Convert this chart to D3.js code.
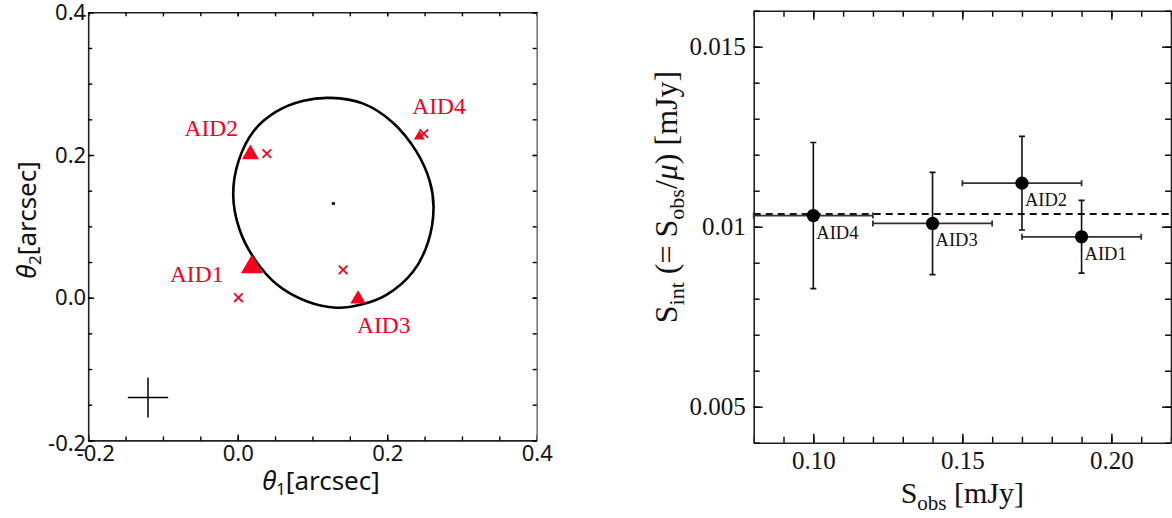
<!DOCTYPE html>
<html lang="en">

<head>
  <meta charset="UTF-8" />
  <title>Lens images and intrinsic flux</title>
  <style>
    body { margin: 0; background: #fff; }
    svg { display: block; }
    .sans text { font-family: "Noto Sans", sans-serif; }
    .serif text { font-family: "Liberation Serif", "Times New Roman", serif; }
  </style>
</head>

<body>

  <div id="chart"></div>

  <script src="https://d3js.org/d3.v7.min.js"></script>
  <script>
    // ---- left panel data (arcsec) ----
    var ids = ["AID1", "AID2", "AID3", "AID4"];
    var imageTheta1 = [0.019, 0.017, 0.161, 0.243];
    var imageTheta2 = [0.043, 0.201, -0.002, 0.226];
    var sourceTheta1 = [0.001, 0.039, 0.141, 0.249];
    var sourceTheta2 = [0.000, 0.202, 0.039, 0.230];
    var curveTheta1 = [0.124, 0.168, 0.207, 0.239, 0.257, 0.262, 0.255, 0.235, 0.199, 0.164,
      0.132, 0.092, 0.053, 0.022, 0.002, -0.006, 0.001, 0.021, 0.052, 0.088];
    var curveTheta2 = [0.280, 0.272, 0.246, 0.205, 0.163, 0.126, 0.079, 0.037, 0.004, -0.010,
      -0.014, -0.005, 0.018, 0.055, 0.097, 0.144, 0.191, 0.233, 0.261, 0.276];
    var lensCenter = [0.128, 0.132];
    var beamCenter = [-0.120, -0.140];
    var beamHalf = [0.027, 0.028];
    var thetaTicks = [-0.2, 0.0, 0.2, 0.4];

    // ---- right panel data (mJy) ----
    var sObs = [0.19, 0.17, 0.14, 0.10];
    var sObsErr = [0.02, 0.02, 0.02, 0.02];
    var sInt = [0.00972, 0.01121, 0.01009, 0.01031];
    var sIntErr = [0.00101, 0.00130, 0.00142, 0.00203];
    var sIntMean = 0.01035;
    var sObsTicks = [0.10, 0.15, 0.20];
    var sIntTicks = [0.005, 0.01, 0.015];

    var w = 1172;
    var h = 518;
    var red = "#f5001f";

    var svg = d3.select("#chart").append("svg")
      .attr("width", w)
      .attr("height", h);

    // inward ticks on one side of a frame; makeAxis returns a fresh d3 axis
    function frameAxis(g, makeAxis, major, minor, fmt, bigTick, smallTick) {
      g.call(makeAxis().tickValues(minor).tickSize(-smallTick).tickSizeOuter(0).tickFormat(""));
      var m = g.append("g").call(makeAxis().tickValues(major).tickSize(-bigTick).tickSizeOuter(0)
        .tickFormat(fmt || function() { return ""; }));
      m.select(".domain").remove();
      g.selectAll("text").attr("fill", "#111");
      g.selectAll("line").attr("stroke-width", 1.4);
      return m;
    }

    /* ===================== left panel ===================== */
    var x1 = d3.scaleLinear().domain([-0.2, 0.4]).range([88.2, 536.7]);
    var y1 = d3.scaleLinear().domain([-0.2, 0.4]).range([440.4, 12.3]);
    var minor1 = d3.range(-0.2, 0.4001, 0.05);
    var fmt1 = function(d) { return d.toFixed(1); };

    var left = svg.append("g").attr("class", "sans");

    var bx1 = left.append("g").attr("transform", "translate(0," + y1(-0.2) + ")");
    frameAxis(bx1, function() { return d3.axisBottom(x1).tickPadding(5); }, thetaTicks, minor1, fmt1, 6, 4)
      .selectAll("text")
      .style("font-size", "22px")
      .attr("dx", function(d) { return d < 0 ? 7 : 0; });

    var tx1 = left.append("g").attr("transform", "translate(0," + y1(0.4) + ")");
    frameAxis(tx1, function() { return d3.axisTop(x1); }, thetaTicks, minor1, null, 4, 4);

    var ly1 = left.append("g").attr("transform", "translate(" + x1(-0.2) + ",0)");
    frameAxis(ly1, function() { return d3.axisLeft(y1).tickPadding(2); }, thetaTicks, minor1, fmt1, 6, 4)
      .selectAll("text")
      .style("font-size", "22px")
      .attr("dy", function(d) { return d < 0 ? "0.45em" : "0.32em"; });

    var ry1 = left.append("g").attr("transform", "translate(" + x1(0.4) + ",0)");
    frameAxis(ry1, function() { return d3.axisRight(y1); }, thetaTicks, minor1, null, 4, 4);

    left.selectAll(".domain").attr("stroke", "#222").attr("stroke-width", 1.6);
    ry1.select(".domain").attr("stroke", "#777");

    // critical curve
    var curvePts = curveTheta1.map(function(d, i) { return [d, curveTheta2[i]]; });
    left.append("path")
      .datum(curvePts)
      .attr("d", d3.line()
        .x(function(d) { return x1(d[0]); })
        .y(function(d) { return y1(d[1]); })
        .curve(d3.curveCatmullRomClosed))
      .attr("fill", "none")
      .attr("stroke", "#000")
      .attr("stroke-width", 2.6);

    // lens centre
    left.append("rect")
      .attr("x", x1(lensCenter[0]) - 1.6)
      .attr("y", y1(lensCenter[1]) - 1.3)
      .attr("width", 3.2)
      .attr("height", 2.6)
      .attr("fill", "#000");

    // beam cross
    left.append("line")
      .attr("x1", x1(beamCenter[0] - beamHalf[0]))
      .attr("x2", x1(beamCenter[0] + beamHalf[0]))
      .attr("y1", y1(beamCenter[1]))
      .attr("y2", y1(beamCenter[1]))
      .attr("stroke", "#000").attr("stroke-width", 1.5);
    left.append("line")
      .attr("x1", x1(beamCenter[0]))
      .attr("x2", x1(beamCenter[0]))
      .attr("y1", y1(beamCenter[1] - beamHalf[1]))
      .attr("y2", y1(beamCenter[1] + beamHalf[1]))
      .attr("stroke", "#000").attr("stroke-width", 1.5);

    // magnification from the right panel sets the triangle width
    var mu = sObs.map(function(d, i) { return d / sInt[i]; });
    var triWidth = d3.scaleLinear().domain([0, 20]).range([0, 22.4]);

    var pts = ids.map(function(d, i) {
      return { id: d, ix: imageTheta1[i], iy: imageTheta2[i],
        sx: sourceTheta1[i], sy: sourceTheta2[i], mu: mu[i] };
    });

    left.selectAll("path.src")
      .data(pts)
      .enter()
      .append("path")
      .attr("class", "src")
      .attr("transform", function(d) { return "translate(" + x1(d.sx) + "," + y1(d.sy) + ")"; })
      .attr("d", "M-4.3,-4.3L4.3,4.3M-4.3,4.3L4.3,-4.3")
      .attr("stroke", red)
      .attr("stroke-width", 1.8)
      .attr("fill", "none");

    left.selectAll("path.img")
      .data(pts)
      .enter()
      .append("path")
      .attr("class", "img")
      .attr("transform", function(d) { return "translate(" + x1(d.ix) + "," + y1(d.iy) + ")"; })
      .attr("d", function(d) {
        var tw = triWidth(d.mu);
        return d3.symbol().type(d3.symbolTriangle).size(tw * tw * Math.sqrt(3) / 4)();
      })
      .attr("fill", red);

    var leftLabelOffset = { AID1: [-82, 15], AID2: [-66, -18], AID3: [-1, 34], AID4: [-7, -22] };
    left.selectAll("text.aid")
      .data(pts)
      .enter()
      .append("text")
      .attr("class", "aid")
      .attr("x", function(d) { return x1(d.ix) + leftLabelOffset[d.id][0]; })
      .attr("y", function(d) { return y1(d.iy) + leftLabelOffset[d.id][1]; })
      .text(function(d) { return d.id; })
      .style("font-family", "'Liberation Serif', serif")
      .style("font-size", "23.5px")
      .attr("fill", red);

    // titles
    var xt1 = left.append("text")
      .attr("x", 321)
      .attr("y", 490)
      .attr("text-anchor", "middle")
      .style("font-size", "26px")
      .attr("fill", "#111");
    xt1.append("tspan").style("font-style", "italic").text("θ");
    xt1.append("tspan").attr("dy", 5).style("font-size", "17px").text("1");
    xt1.append("tspan").attr("dy", -5).text("[arcsec]");

    var yt1 = left.append("text")
      .attr("transform", "translate(36,220) rotate(-90)")
      .attr("text-anchor", "middle")
      .style("font-size", "26px")
      .attr("fill", "#111");
    yt1.append("tspan").style("font-style", "italic").text("θ");
    yt1.append("tspan").attr("dy", 5).style("font-size", "17px").text("2");
    yt1.append("tspan").attr("dy", -5).text("[arcsec]");

    /* ===================== right panel ===================== */
    var x2 = d3.scaleLinear().domain([0.08, 0.22]).range([753.7, 1171]);
    var y2 = d3.scaleLinear().domain([0.004, 0.016]).range([442.7, 10.7]);
    var minorX2 = d3.range(0.08, 0.2201, 0.01);
    var minorY2 = d3.range(0.004, 0.01601, 0.001);

    var right = svg.append("g").attr("class", "serif");

    var bx2 = right.append("g").attr("transform", "translate(0," + y2(0.004) + ")");
    frameAxis(bx2, function() { return d3.axisBottom(x2).tickPadding(9); }, sObsTicks, minorX2,
      function(d) { return d.toFixed(2); }, 9, 6)
      .selectAll("text").style("font-size", "25px");

    var tx2 = right.append("g").attr("transform", "translate(0," + y2(0.016) + ")");
    frameAxis(tx2, function() { return d3.axisTop(x2); }, sObsTicks, minorX2, null, 9, 6);

    var ly2 = right.append("g").attr("transform", "translate(" + x2(0.08) + ",0)");
    frameAxis(ly2, function() { return d3.axisLeft(y2).tickPadding(8); }, sIntTicks, minorY2,
      function(d) { return String(d); }, 9, 6)
      .selectAll("text").style("font-size", "25px");

    var ry2 = right.append("g").attr("transform", "translate(" + x2(0.22) + ",0)");
    frameAxis(ry2, function() { return d3.axisRight(y2); }, sIntTicks, minorY2, null, 9, 6);

    right.selectAll(".domain").attr("stroke", "#222").attr("stroke-width", 1.6);

    // mean line
    right.append("line")
      .attr("x1", x2(0.08))
      .attr("x2", x2(0.22))
      .attr("y1", y2(sIntMean))
      .attr("y2", y2(sIntMean))
      .attr("stroke", "#111")
      .attr("stroke-width", 2)
      .attr("stroke-dasharray", "7,5");

    var flux = ids.map(function(d, i) {
      return { id: d, x: sObs[i], xe: sObsErr[i], y: sInt[i], ye: sIntErr[i] };
    });

    var eb = right.selectAll("g.eb")
      .data(flux)
      .enter()
      .append("g")
      .attr("class", "eb");

    // horizontal bars
    eb.append("path")
      .attr("d", function(d) {
        var a = x2(d.x - d.xe), b = x2(d.x + d.xe), yy = y2(d.y);
        return "M" + a + "," + yy + "H" + b +
          "M" + a + "," + (yy - 3) + "V" + (yy + 3) +
          "M" + b + "," + (yy - 3) + "V" + (yy + 3);
      })
      .attr("stroke", "#333")
      .attr("stroke-width", 1.8)
      .attr("fill", "none");

    // vertical bars
    eb.append("path")
      .attr("d", function(d) {
        var t = y2(d.y + d.ye), b = y2(d.y - d.ye), xx = x2(d.x);
        return "M" + xx + "," + t + "V" + b +
          "M" + (xx - 3) + "," + t + "H" + (xx + 3) +
          "M" + (xx - 3) + "," + b + "H" + (xx + 3);
      })
      .attr("stroke", "#111")
      .attr("stroke-width", 1.6)
      .attr("fill", "none");

    eb.append("circle")
      .attr("cx", function(d) { return x2(d.x); })
      .attr("cy", function(d) { return y2(d.y); })
      .attr("r", 6.6)
      .attr("fill", "#000");

    eb.append("text")
      .attr("x", function(d) { return x2(d.x) + 3; })
      .attr("y", function(d) { return y2(d.y) + 23; })
      .text(function(d) { return d.id; })
      .style("font-size", "18.5px")
      .attr("fill", "#111");

    // titles
    var xt2 = right.append("text")
      .attr("x", x2(0.15))
      .attr("y", 503)
      .attr("text-anchor", "middle")
      .style("font-size", "30px")
      .attr("fill", "#111");
    xt2.append("tspan").text("S");
    xt2.append("tspan").attr("dy", 7).style("font-size", "21px").text("obs");
    xt2.append("tspan").attr("dy", -7).text(" [mJy]");

    var yt2 = right.append("text")
      .attr("transform", "translate(677,197) rotate(-90)")
      .attr("text-anchor", "middle")
      .style("font-size", "32px")
      .attr("fill", "#111");
    yt2.append("tspan").text("S");
    yt2.append("tspan").attr("dy", 7).style("font-size", "22px").text("int");
    yt2.append("tspan").attr("dy", -7).text(" (= S");
    yt2.append("tspan").attr("dy", 7).style("font-size", "22px").text("obs");
    yt2.append("tspan").attr("dy", -7).text("/");
    yt2.append("tspan").style("font-style", "italic").text("μ");
    yt2.append("tspan").text(") [mJy]");
  </script>

</body>

</html>
